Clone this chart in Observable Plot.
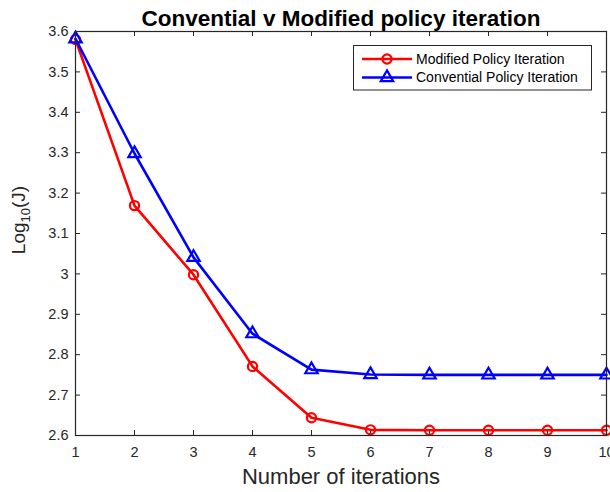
<!DOCTYPE html>
<html><head><meta charset="utf-8">
<script src="https://cdn.jsdelivr.net/npm/d3@7"></script>
<script src="https://cdn.jsdelivr.net/npm/@observablehq/plot@0.6"></script>
<style>
body{margin:0;overflow:hidden;background:#fff}
#chart{position:relative;width:610px;height:492px;overflow:hidden}
</style>
</head><body><div id="chart"></div>
<script>
const titleText = "Convential v Modified policy iteration";
const xLabel = "Number of iterations";
const iterations = [1, 2, 3, 4, 5, 6, 7, 8, 9, 10];
const modified = [3.58, 3.169, 2.998, 2.771, 2.644, 2.614, 2.613, 2.613, 2.613, 2.613];
const conventional = [3.582, 3.298, 3.041, 2.852, 2.763, 2.751, 2.75, 2.75, 2.75, 2.75];
const seriesNames = ["Modified Policy Iteration", "Convential Policy Iteration"];
const seriesColors = ["#ff0000", "#0000ff"];
const xTicks = [1, 2, 3, 4, 5, 6, 7, 8, 9, 10];
const yTicks = [2.6, 2.7, 2.8, 2.9, 3.0, 3.1, 3.2, 3.3, 3.4, 3.5, 3.6];

const W = 610, H = 492, mL = 75, mR = 4, mT = 31, mB = 57;
const pw = W - mL - mR, ph = H - mT - mB, tk = 5;
const axisColor = "#262626";
const font = "'Liberation Sans', Arial, Helvetica, sans-serif";

const modData = iterations.map((x, i) => ({x, y: modified[i]}));
const conData = iterations.map((x, i) => ({x, y: conventional[i]}));

const plot = Plot.plot({
  width: W, height: H,
  marginLeft: mL, marginRight: mR, marginTop: mT, marginBottom: mB,
  style: {fontFamily: font, fontSize: "14.5px", color: axisColor, background: "#fff", overflow: "hidden"},
  x: {domain: [1, 10]},
  y: {domain: [2.6, 3.6]},
  marks: [
    Plot.axisX({ticks: xTicks, tickSize: 0, tickPadding: 11, label: null, tickFormat: d => String(d)}),
    Plot.axisY({ticks: yTicks, tickSize: 0, tickPadding: 7, label: null, tickFormat: d => String(+d.toFixed(1))}),
    Plot.tickX(xTicks, {x: d => d, insetTop: ph - tk, stroke: axisColor}),
    Plot.tickX(xTicks, {x: d => d, insetBottom: ph - tk, stroke: axisColor}),
    Plot.tickY(yTicks, {y: d => d, insetRight: pw - tk, stroke: axisColor}),
    Plot.tickY(yTicks, {y: d => d, insetLeft: pw - tk, stroke: axisColor}),
    Plot.line(modData, {x: "x", y: "y", stroke: seriesColors[0], strokeWidth: 2.6}),
    Plot.dot(modData, {x: "x", y: "y", r: 4.6, stroke: seriesColors[0], strokeWidth: 2.2, fill: "none"}),
    Plot.line(conData, {x: "x", y: "y", stroke: seriesColors[1], strokeWidth: 2.6}),
    Plot.dot(conData, {x: "x", y: "y", r: 4.6, symbol: "triangle", stroke: seriesColors[1], strokeWidth: 2.2, fill: "none"}),
    Plot.frame({stroke: axisColor, strokeWidth: 1.2}),
    Plot.text([titleText], {text: d => d, frameAnchor: "top", dy: -21, fontSize: 22.5, fontWeight: "bold", fill: "#000", textAnchor: "middle"}),
    Plot.text([xLabel], {text: d => d, frameAnchor: "bottom", dy: 48, fontSize: 22, fill: axisColor})
  ]
});
document.getElementById("chart").appendChild(plot);

const svg = d3.select(plot);
// Y-axis label with subscript
const yl = svg.append("text")
  .attr("transform", `translate(25,${220}) rotate(-90)`)
  .attr("text-anchor", "middle")
  .attr("font-family", font).attr("font-size", 19).attr("fill", axisColor);
yl.append("tspan").text("Log");
yl.append("tspan").attr("font-size", 13).attr("dy", 5).text("10");
yl.append("tspan").attr("dy", -5).text("(J)");

// Legend
const lg = svg.append("g").attr("font-family", font).attr("font-size", 14).attr("text-anchor", "start");
lg.append("rect").attr("x", 353.5).attr("y", 45.5).attr("width", 238).attr("height", 44.5)
  .attr("fill", "#fff").attr("stroke", axisColor).attr("stroke-width", 1);
const rowsY = [59, 77.5];
const symbols = [d3.symbol(d3.symbolCircle, Math.PI * 4.6 * 4.6), d3.symbol(d3.symbolTriangle, Math.PI * 4.6 * 4.6)];
seriesNames.forEach((name, i) => {
  const y = rowsY[i];
  lg.append("line").attr("x1", 362).attr("x2", 412).attr("y1", y).attr("y2", y)
    .attr("stroke", seriesColors[i]).attr("stroke-width", 2.6);
  lg.append("path").attr("d", symbols[i]()).attr("transform", `translate(387,${y})`)
    .attr("fill", "none").attr("stroke", seriesColors[i]).attr("stroke-width", 2.2);
  lg.append("text").attr("x", 416).attr("y", y).attr("dy", "0.35em").attr("text-anchor", "start").attr("fill", "#000").text(name);
});
</script>
</body></html>
